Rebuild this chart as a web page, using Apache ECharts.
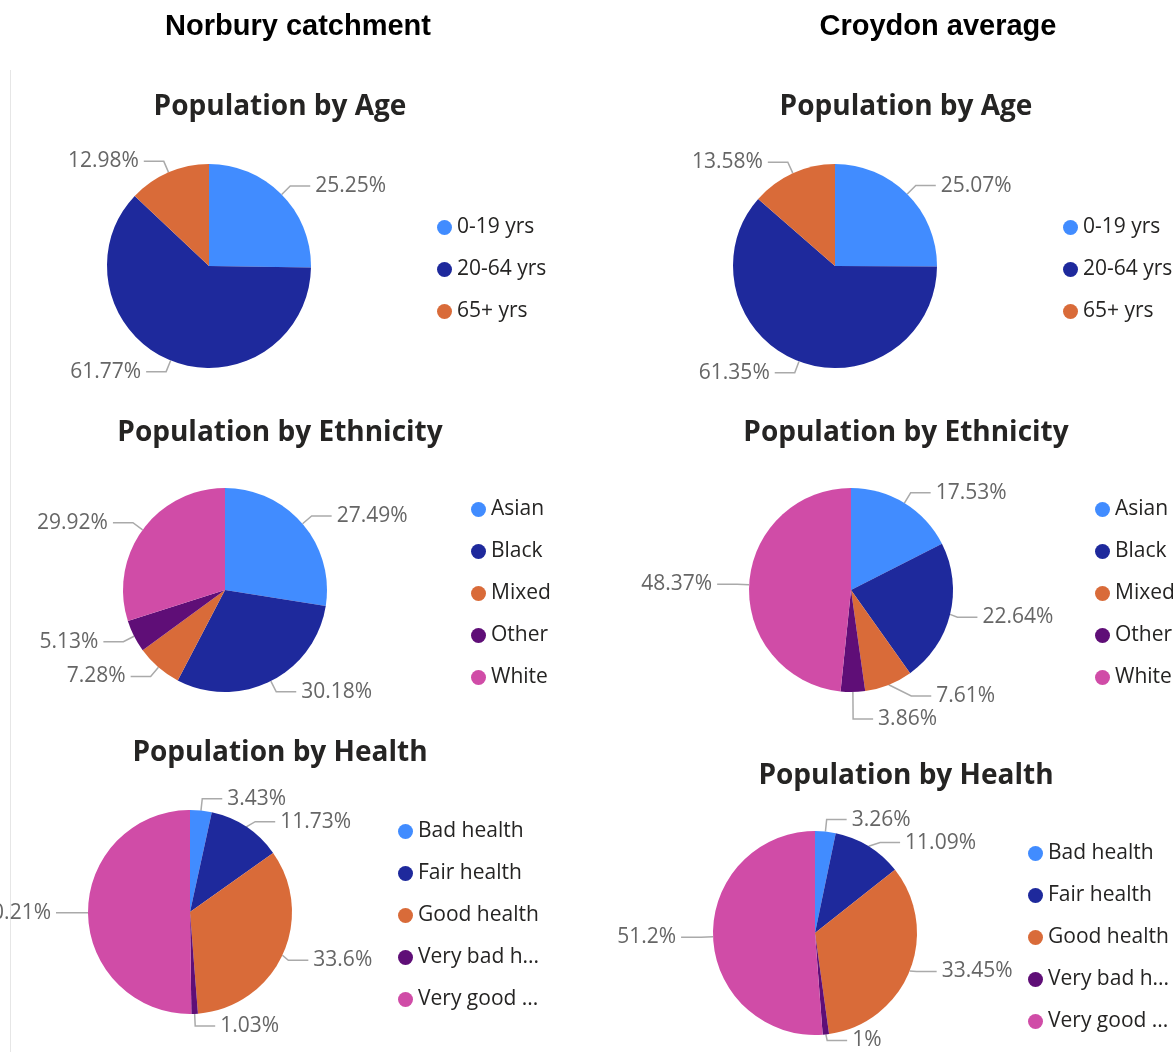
<!DOCTYPE html>
<html>
<head>
<meta charset="utf-8">
<script src="https://cdn.jsdelivr.net/npm/echarts@6/dist/echarts.min.js"></script>
<style>
  html, body { margin: 0; padding: 0; background: #fff; }
  #chartsDom { width: 1173px; height: 1052px; }
</style>
</head>
<body>
<div id="chartsDom"></div>
<script>
// data
const ageNames = ["0-19 yrs", "20-64 yrs", "65+ yrs"];
const norburyAge = [25.25, 61.77, 12.98];
const croydonAge = [25.07, 61.35, 13.58];

const ethnicityNames = ["Asian", "Black", "Mixed", "Other", "White"];
const norburyEthnicity = [27.49, 30.18, 7.28, 5.13, 29.92];
const croydonEthnicity = [17.53, 22.64, 7.61, 3.86, 48.37];

const healthNames = ["Bad health", "Fair health", "Good health", "Very bad health", "Very good health"];
const norburyHealth = [3.43, 11.73, 33.6, 1.03, 50.21];
const croydonHealth = [3.26, 11.09, 33.45, 1, 51.2];

const colors = ["#418CFF", "#1E299C", "#D96B39", "#5F0E77", "#D04CA7"];
const font = "'Open Sans', 'Noto Sans', sans-serif";

// every pie starts again from the first colour
function toData(names, values) {
  return names.map((n, i) => ({ name: n, value: values[i], itemStyle: { color: colors[i] } }));
}

// one block = title + pie + legend
const blocks = [
  { title: "Population by Age", tx: 275, ty: 88, names: ageNames, values: norburyAge, center: [209, 266], lx: 432, ly: 212 },
  { title: "Population by Age", tx: 901, ty: 88, names: ageNames, values: croydonAge, center: [835, 266], lx: 1058, ly: 212 },
  { title: "Population by Ethnicity", tx: 275, ty: 414, names: ethnicityNames, values: norburyEthnicity, center: [225, 590], lx: 466, ly: 494 },
  { title: "Population by Ethnicity", tx: 901, ty: 414, names: ethnicityNames, values: croydonEthnicity, center: [851, 590], lx: 1090, ly: 494 },
  { title: "Population by Health", tx: 275, ty: 734, names: healthNames, values: norburyHealth, center: [190, 912], lx: 393, ly: 816 },
  { title: "Population by Health", tx: 901, ty: 757, names: healthNames, values: croydonHealth, center: [815, 933], lx: 1023, ly: 838 }
];

const myChart = echarts.init(document.getElementById("chartsDom"));

let option = {
  animation: false,
  title: blocks.map(b => ({
    text: b.title,
    left: b.tx,
    top: b.ty,
    textAlign: "center",
    textStyle: { fontFamily: font, fontSize: 28, fontWeight: "bold", color: "#252423" }
  })),
  legend: blocks.map(b => ({
    orient: "vertical",
    left: b.lx,
    top: b.ly,
    data: b.names,
    icon: "circle",
    itemWidth: 15,
    itemHeight: 15,
    itemGap: 21,
    textStyle: { fontFamily: font, fontSize: 21, color: "#252423" },
    formatter: name => (name.length > 12 ? name.slice(0, 10) + "..." : name)
  })),
  series: blocks.map(b => ({
    type: "pie",
    center: b.center,
    radius: 102,
    startAngle: 90,
    data: toData(b.names, b.values),
    label: {
      formatter: p => p.value + "%",
      fontFamily: font,
      fontSize: 21,
      color: "#666",
      overflow: "none"
    },
    labelLine: {
      length: 12,
      length2: 20,
      lineStyle: { color: "#aaa", width: 1.5 }
    },
    itemStyle: { borderWidth: 0 }
  })),
  graphic: [
    {
      type: "text",
      x: 298,
      y: 27,
      style: { text: "Norbury catchment", font: "bold 29px 'Liberation Sans', Arial, sans-serif", fill: "#000", align: "center", verticalAlign: "middle" }
    },
    {
      type: "text",
      x: 938,
      y: 27,
      style: { text: "Croydon average", font: "bold 29px 'Liberation Sans', Arial, sans-serif", fill: "#000", align: "center", verticalAlign: "middle" }
    },
    {
      type: "line",
      shape: { x1: 10.5, y1: 70, x2: 10.5, y2: 1052 },
      style: { stroke: "#e6e6e6", lineWidth: 1 }
    }
  ]
};

option && myChart.setOption(option);
</script>
</body>
</html>
